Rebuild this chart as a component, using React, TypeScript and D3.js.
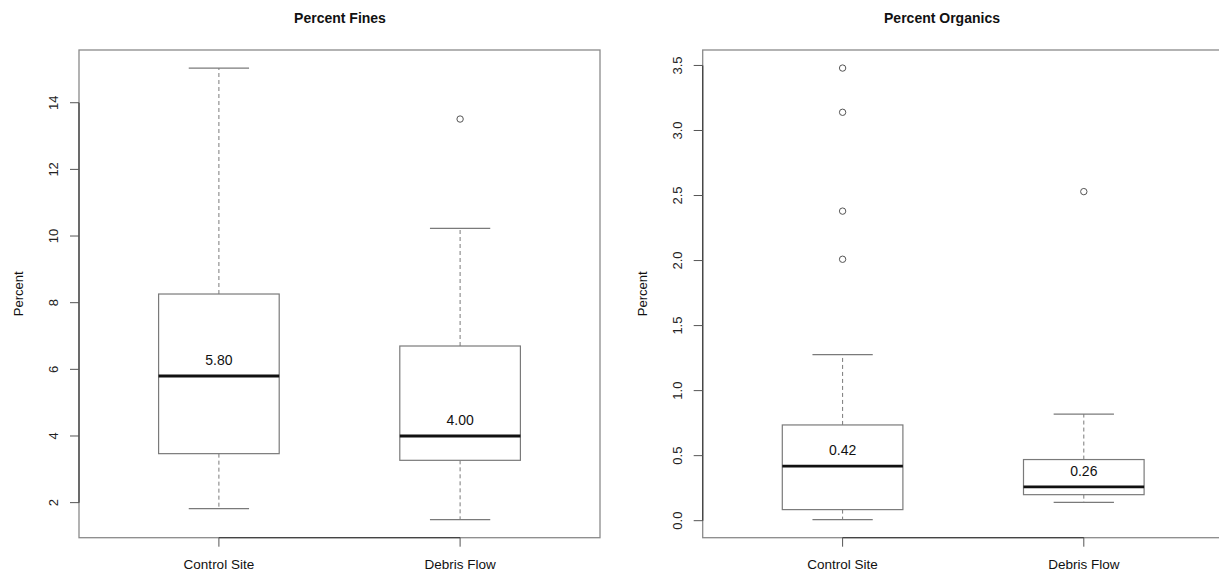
// @ts-nocheck
import { useEffect, useRef } from "react"
import * as d3 from "d3"

const groups = ["Control Site", "Debris Flow"]

// five-number summaries: [lower whisker, Q1, median, Q3, upper whisker]
const finesStats = [
  [1.82, 3.47, 5.8, 8.26, 15.04],
  [1.49, 3.27, 4.0, 6.7, 10.23],
]
const finesOutliers = [[], [13.51]]
const finesTicks = [2, 4, 6, 8, 10, 12, 14]

const organicsStats = [
  [0.008, 0.085, 0.42, 0.736, 1.277],
  [0.14, 0.2, 0.26, 0.47, 0.82],
]
const organicsOutliers = [[2.01, 2.38, 3.14, 3.48], [2.53]]
const organicsTicks = [0, 0.5, 1, 1.5, 2, 2.5, 3, 3.5]

const panels = [
  { title: "Percent Fines", stats: finesStats, outliers: finesOutliers, ticks: finesTicks, fmt: d3.format("d"), left: 79, titleX: 340 },
  { title: "Percent Organics", stats: organicsStats, outliers: organicsOutliers, ticks: organicsTicks, fmt: d3.format(".1f"), left: 702.7, titleX: 942 },
]

export default function App() {
  const svgRef = useRef<SVGSVGElement>(null)

  useEffect(() => {
    const width = 1219
    const height = 576
    const top = 50
    const plotW = 521
    const plotH = 487.7
    const font = "Liberation Sans, Arial, Helvetica, sans-serif"

    const svg = d3.select(svgRef.current)
    svg.selectAll("*").remove()
    svg.attr("width", width).attr("height", height)

    panels.forEach((p) => {
      const all = p.stats.flat().concat(p.outliers.flat())
      const lo = d3.min(all)
      const hi = d3.max(all)
      const pad = (hi - lo) * 0.04

      const x = d3.scaleLinear().domain([0.42, 2.58]).range([p.left, p.left + plotW])
      const y = d3.scaleLinear().domain([lo - pad, hi + pad]).range([top + plotH, top])

      const g = svg.append("g")

      // frame
      g.append("rect")
        .attr("x", p.left)
        .attr("y", top)
        .attr("width", plotW)
        .attr("height", plotH)
        .attr("fill", "none")
        .attr("stroke", "#8a8a8a")
        .attr("stroke-width", 1.3)

      // title
      g.append("text")
        .attr("x", p.titleX)
        .attr("y", 23)
        .attr("text-anchor", "middle")
        .style("font-family", font)
        .style("font-weight", "bold")
        .style("font-size", "14px")
        .attr("fill", "#111")
        .text(p.title)

      // y label
      g.append("text")
        .attr("transform", `translate(${p.left - 56},${top + plotH / 2}) rotate(-90)`)
        .attr("text-anchor", "middle")
        .style("font-family", font)
        .style("font-size", "13px")
        .attr("fill", "#111")
        .text("Percent")

      // y axis
      const t0 = y(p.ticks[0])
      const t1 = y(p.ticks[p.ticks.length - 1])
      g.append("line")
        .attr("x1", p.left).attr("x2", p.left)
        .attr("y1", t0).attr("y2", t1)
        .attr("stroke", "#444").attr("stroke-width", 1.3)
      p.ticks.forEach((t) => {
        g.append("line")
          .attr("x1", p.left - 9).attr("x2", p.left)
          .attr("y1", y(t)).attr("y2", y(t))
          .attr("stroke", "#555")
        g.append("text")
          .attr("transform", `translate(${p.left - 21},${y(t)}) rotate(-90)`)
          .attr("text-anchor", "middle")
          .style("font-family", font)
          .style("font-size", "13px")
          .attr("fill", "#222")
          .text(p.fmt(t))
      })

      // x axis
      g.append("line")
        .attr("x1", x(1)).attr("x2", x(2))
        .attr("y1", top + plotH).attr("y2", top + plotH)
        .attr("stroke", "#444").attr("stroke-width", 1.3)
      groups.forEach((name, i) => {
        g.append("line")
          .attr("x1", x(i + 1)).attr("x2", x(i + 1))
          .attr("y1", top + plotH).attr("y2", top + plotH + 9)
          .attr("stroke", "#555")
        g.append("text")
          .attr("x", x(i + 1))
          .attr("y", top + plotH + 31)
          .attr("text-anchor", "middle")
          .style("font-family", font)
          .style("font-size", "13.5px")
          .attr("fill", "#111")
          .text(name)
      })

      // boxes
      p.stats.forEach((s, i) => {
        const cx = x(i + 1)
        const half = x(1.25) - x(1)
        const [wl, q1, med, q3, wh] = s
        const grey = "#7a7a7a"

        g.append("line")
          .attr("x1", cx).attr("x2", cx)
          .attr("y1", y(q3)).attr("y2", y(wh))
          .attr("stroke", grey).attr("stroke-dasharray", "4,3")
        g.append("line")
          .attr("x1", cx).attr("x2", cx)
          .attr("y1", y(q1)).attr("y2", y(wl))
          .attr("stroke", grey).attr("stroke-dasharray", "4,3")
        ;[wl, wh].forEach((v) => {
          g.append("line")
            .attr("x1", cx - half / 2).attr("x2", cx + half / 2)
            .attr("y1", y(v)).attr("y2", y(v))
            .attr("stroke", grey).attr("stroke-width", 1.2)
        })
        g.append("rect")
          .attr("x", cx - half)
          .attr("y", y(q3))
          .attr("width", half * 2)
          .attr("height", y(q1) - y(q3))
          .attr("fill", "white")
          .attr("stroke", grey)
          .attr("stroke-width", 1.2)
        g.append("line")
          .attr("x1", cx - half).attr("x2", cx + half)
          .attr("y1", y(med)).attr("y2", y(med))
          .attr("stroke", "#111").attr("stroke-width", 2.8)
        g.append("text")
          .attr("x", cx)
          .attr("y", y(med) - 11)
          .attr("text-anchor", "middle")
          .style("font-family", font)
          .style("font-size", "14px")
          .attr("fill", "#111")
          .text(d3.format(".2f")(med))

        p.outliers[i].forEach((v) => {
          g.append("circle")
            .attr("cx", cx)
            .attr("cy", y(v))
            .attr("r", 3.2)
            .attr("fill", "none")
            .attr("stroke", "#555")
        })
      })
    })
  }, [])

  return <svg ref={svgRef} style={{ position: "absolute", left: 0, top: 0 }} />
}
